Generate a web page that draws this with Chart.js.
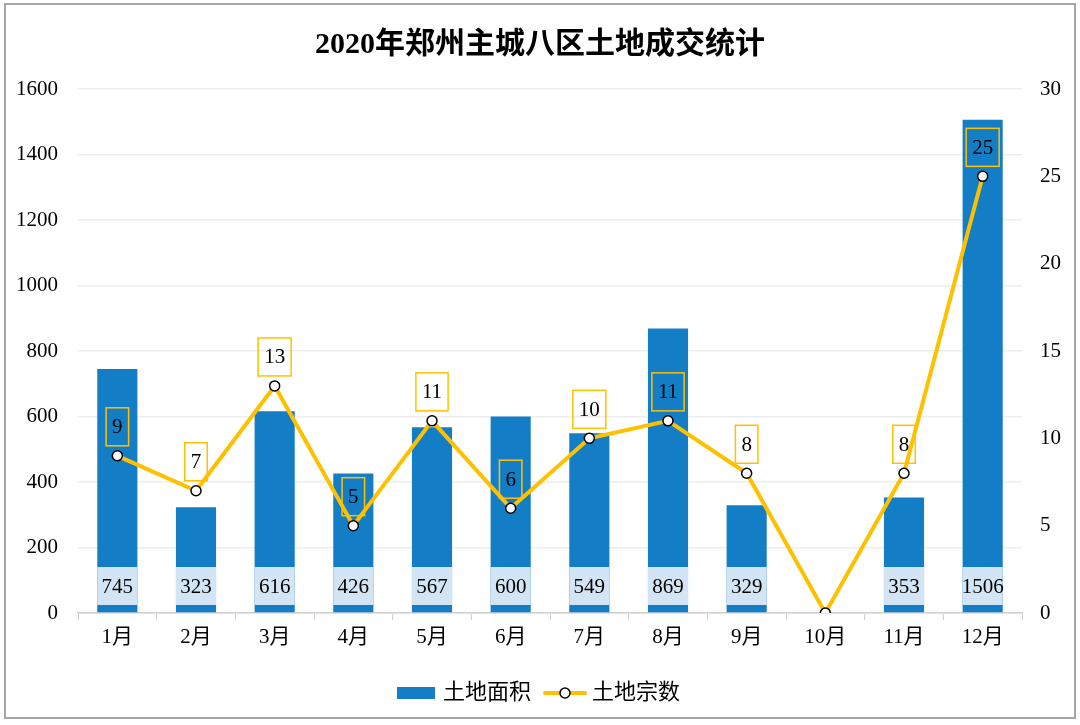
<!DOCTYPE html>
<html>
<head>
<meta charset="utf-8">
<script src="https://cdn.jsdelivr.net/npm/chart.js@4.4.0/dist/chart.umd.min.js"></script>
<style>
  html, body { margin: 0; padding: 0; background: #ffffff; }
  #wrap { position: relative; width: 1080px; height: 725px; }
  #frame { position: absolute; left: 4px; top: 3px; width: 1068px; height: 712px; border: 2px solid #a6a6a6; pointer-events: none; }
  canvas { position: absolute; left: 0; top: 0; }
</style>
</head>
<body>
<div id="wrap">
  <canvas id="c" width="1080" height="725"></canvas>
  <div id="frame"></div>
</div>
<script>
const titleText = '2020年郑州主城八区土地成交统计';
const months = ['1月','2月','3月','4月','5月','6月','7月','8月','9月','10月','11月','12月'];
const landArea = [745, 323, 616, 426, 567, 600, 549, 869, 329, 0, 353, 1506];
const landCount = [9, 7, 13, 5, 11, 6, 10, 11, 8, 0, 8, 25];
const leftTicks = [0, 200, 400, 600, 800, 1000, 1200, 1400, 1600];
const rightTicks = [0, 5, 10, 15, 20, 25, 30];
const seriesNames = ['土地面积', '土地宗数'];

const BLUE = '#137ec6';
const LIGHT = '#d3e5f4';
const YELLOW = '#ffc000';
const FONT = '"Liberation Serif", "Noto Sans CJK SC", serif';

function makeBarIcon() {
  const c = document.createElement('canvas');
  c.width = 38; c.height = 12;
  const x = c.getContext('2d');
  x.fillStyle = BLUE; x.fillRect(0, 0, 38, 12);
  return c;
}
function makeLineIcon() {
  const c = document.createElement('canvas');
  c.width = 44; c.height = 14;
  const x = c.getContext('2d');
  x.strokeStyle = YELLOW; x.lineWidth = 4; x.lineCap = 'round';
  x.beginPath(); x.moveTo(2, 7); x.lineTo(42, 7); x.stroke();
  x.beginPath(); x.arc(22, 7, 5, 0, Math.PI * 2);
  x.fillStyle = '#fff'; x.fill(); x.lineWidth = 1.5; x.strokeStyle = '#000'; x.stroke();
  return c;
}
const barIcon = makeBarIcon();
const lineIcon = makeLineIcon();

const labelPlugin = {
  id: 'labels',
  afterDatasetDraw(chart, args) {
    if (args.index !== 0) return;
    const meta = chart.getDatasetMeta(0);
    const ctx = chart.ctx;
    const bottom = chart.scales.y.bottom;
    ctx.save();
    ctx.font = '21px ' + FONT;
    ctx.textAlign = 'center';
    ctx.textBaseline = 'middle';
    meta.data.forEach((bar, i) => {
      const v = landArea[i];
      if (!v) return;
      const w = bar.width;
      ctx.fillStyle = LIGHT;
      ctx.fillRect(bar.x - w / 2, bottom - 46, w, 38);
      ctx.fillStyle = '#000';
      ctx.fillText(String(v), bar.x, bottom - 26);
    });
    ctx.restore();
  },
  afterDatasetsDraw(chart) {
    const meta = chart.getDatasetMeta(1);
    const ctx = chart.ctx;
    ctx.save();
    ctx.font = '21px ' + FONT;
    ctx.textAlign = 'center';
    ctx.textBaseline = 'middle';
    meta.data.forEach((pt, i) => {
      const v = landCount[i];
      if (!v) return;
      const s = String(v);
      const tw = ctx.measureText(s).width;
      const bw = tw + 12;
      const bh = 38;
      const by = pt.y - 10 - bh;
      ctx.strokeStyle = YELLOW;
      ctx.lineWidth = 1.5;
      ctx.strokeRect(pt.x - bw / 2, by, bw, bh);
      ctx.fillStyle = '#000';
      ctx.fillText(s, pt.x, by + bh / 2 + 1);
    });
    ctx.restore();
  }
};

new Chart(document.getElementById('c'), {
  data: {
    labels: months,
    datasets: [
      {
        type: 'bar',
        label: seriesNames[0],
        data: landArea,
        backgroundColor: BLUE,
        yAxisID: 'y',
        barPercentage: 0.51,
        categoryPercentage: 1.0,
        order: 2
      },
      {
        type: 'line',
        label: seriesNames[1],
        data: landCount,
        borderColor: YELLOW,
        borderWidth: 4,
        pointRadius: 5,
        pointBackgroundColor: '#ffffff',
        pointBorderColor: '#000000',
        pointBorderWidth: 1.5,
        tension: 0,
        yAxisID: 'y1',
        order: 1
      }
    ]
  },
  options: {
    responsive: false,
    animation: false,
    devicePixelRatio: 1,
    layout: { padding: { left: 0, right: 0, top: 0, bottom: 11 } },
    plugins: {
      tooltip: { enabled: false },
      title: {
        display: true,
        text: titleText,
        color: '#000',
        font: { family: FONT, size: 30, weight: 'bold' },
        padding: { top: 27, bottom: 26 }
      },
      legend: {
        position: 'bottom',
        labels: {
          color: '#000',
          font: { family: FONT, size: 22 },
          usePointStyle: true,
          pointStyleWidth: 32,
          boxHeight: 14,
          padding: 18,
          generateLabels() {
            return [
              { text: seriesNames[0], pointStyle: barIcon, fillStyle: BLUE, strokeStyle: BLUE, lineWidth: 0, datasetIndex: 0, fontColor: '#000' },
              { text: seriesNames[1], pointStyle: lineIcon, fillStyle: YELLOW, strokeStyle: YELLOW, lineWidth: 0, datasetIndex: 1, fontColor: '#000' }
            ];
          }
        }
      }
    },
    scales: {
      x: {
        grid: { display: true, offset: true, drawOnChartArea: false, drawTicks: true, tickLength: 7, color: '#d0d0d0' },
        border: { display: true, color: '#d0d0d0', width: 1.5 },
        ticks: { color: '#000', font: { family: FONT, size: 21 }, padding: 5 },
        afterFit(s) { s.height = 51; }
      },
      y: {
        position: 'left',
        min: 0, max: 1600,
        afterBuildTicks(s) { s.ticks = leftTicks.map(v => ({ value: v })); },
        grid: { color: '#eeeeee', drawTicks: false, lineWidth: 1.5 },
        border: { display: false },
        ticks: { color: '#000', font: { family: FONT, size: 21 }, padding: 20, callback: v => String(v) },
        afterFit(s) { s.width = 78; }
      },
      y1: {
        position: 'right',
        min: 0, max: 30,
        afterBuildTicks(s) { s.ticks = rightTicks.map(v => ({ value: v })); },
        grid: { display: false, drawTicks: false },
        border: { display: false },
        ticks: { color: '#000', font: { family: FONT, size: 21 }, padding: 18, callback: v => String(v) },
        afterFit(s) { s.width = 58; }
      }
    }
  },
  plugins: [labelPlugin]
});
</script>
</body>
</html>
